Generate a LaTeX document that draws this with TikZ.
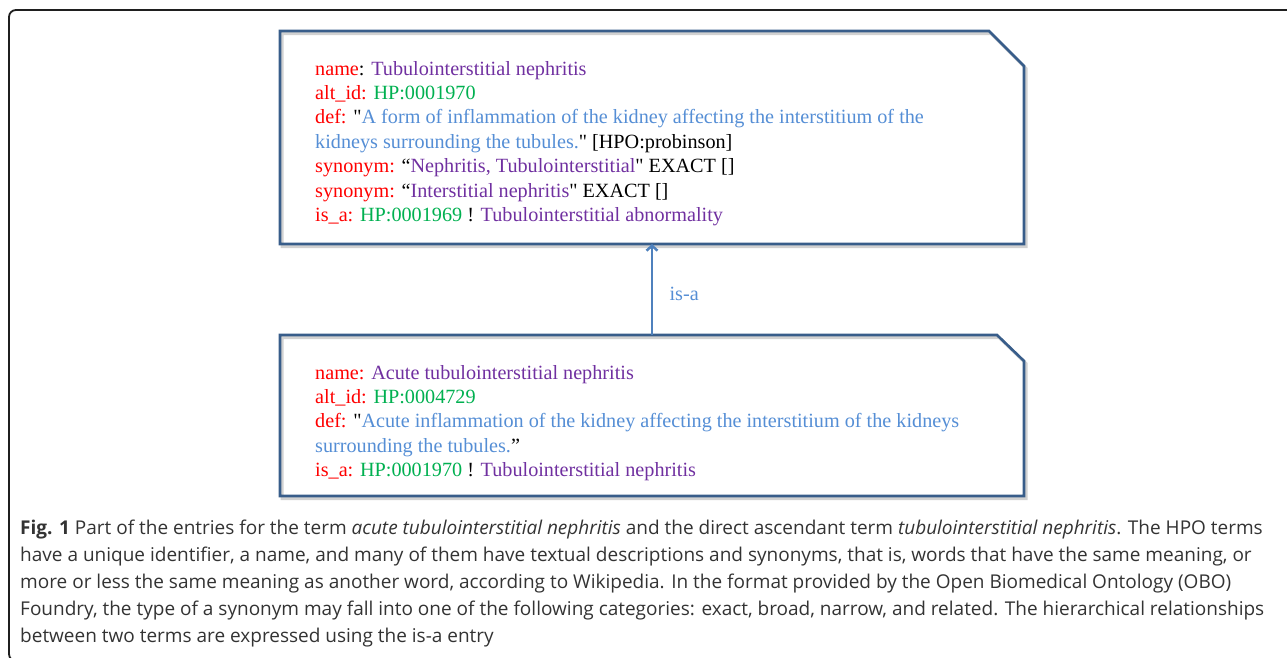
\documentclass[tikz,border=0pt]{standalone}
\usepackage{fontspec}
\setmainfont{Liberation Serif}[Ligatures=TeXOff]
\newfontfamily\capfont{Open Sans}
\usetikzlibrary{arrows.meta}

\definecolor{kred}{RGB}{255,0,0}
\definecolor{kpurple}{RGB}{112,48,160}
\definecolor{kgreen}{RGB}{0,176,80}
\definecolor{kblue}{RGB}{85,142,213}
\definecolor{boxline}{RGB}{56,93,138}
\definecolor{arrowblue}{RGB}{79,129,189}
\definecolor{capgray}{RGB}{51,51,51}

\tikzset{
    termrect/.style={draw=none, inner sep=0pt, outer sep=0pt, anchor=north west},
    termline/.style={draw=boxline, line width=2.6pt, line join=miter},
    termshadow/.style={draw=black!18, line width=3pt, transform canvas={xshift=2pt, yshift=-2.5pt}},
    termtext/.style={anchor=base west, inner sep=0pt, align=left,
        font=\fontsize{20.2}{24.4}\selectfont},
}

\begin{document}
\begin{tikzpicture}[x=1pt, y=-1pt]
    \useasboundingbox (0,0) rectangle (1287,657);

    % outer frame of the figure
    \draw[line width=1.8pt, black!88, rounded corners=7pt] (1295,10) -- (9,10) -- (9,661) -- (1295,661);

    \node[termrect, minimum width=744pt, minimum height=213pt] (toprect) at (280,31) {};
    \node[termrect, minimum width=744pt, minimum height=161pt] (botrect) at (280,335) {};

    \draw[termshadow] (toprect.south west) -- (toprect.north west) -- ([xshift=-35pt]toprect.north east)
        -- ([yshift=-35pt]toprect.north east) -- (toprect.south east) -- cycle;
    \draw[termline] (toprect.south west) -- (toprect.north west) -- ([xshift=-35pt]toprect.north east)
        -- ([yshift=-35pt]toprect.north east) -- (toprect.south east) -- cycle;

    \draw[termshadow] (botrect.south west) -- (botrect.north west) -- ([xshift=-27pt]botrect.north east)
        -- ([yshift=-26pt]botrect.north east) -- (botrect.south east) -- cycle;
    \draw[termline] (botrect.south west) -- (botrect.north west) -- ([xshift=-27pt]botrect.north east)
        -- ([yshift=-26pt]botrect.north east) -- (botrect.south east) -- cycle;

    % base anchor sits on the last line
    \node[termtext] (toptext) at (315,221.4) {%
        \textcolor{kred}{name}: \textcolor{kpurple}{Tubulointerstitial nephritis}\\
        \textcolor{kred}{alt\_id:} \textcolor{kgreen}{HP:0001970}\\
        \textcolor{kred}{def:} "\textcolor{kblue}{A form of inflammation of the kidney affecting the interstitium of the}\\
        \textcolor{kblue}{kidneys surrounding the tubules.}" [HPO:probinson]\\
        \textcolor{kred}{synonym:} “\textcolor{kpurple}{Nephritis, Tubulointerstitial}" EXACT []\\
        \textcolor{kred}{synonym:} “\textcolor{kpurple}{Interstitial nephritis}" EXACT []\\
        \textcolor{kred}{is\_a:} \textcolor{kgreen}{HP:0001969} ! \textcolor{kpurple}{Tubulointerstitial abnormality}};

    \node[termtext] (bottext) at (315,476.6) {%
        \textcolor{kred}{name:} \textcolor{kpurple}{Acute tubulointerstitial nephritis}\\
        \textcolor{kred}{alt\_id:} \textcolor{kgreen}{HP:0004729}\\
        \textcolor{kred}{def:} "\textcolor{kblue}{Acute inflammation of the kidney affecting the interstitium of the kidneys}\\
        \textcolor{kblue}{surrounding the tubules.}”\\
        \textcolor{kred}{is\_a:} \textcolor{kgreen}{HP:0001970} ! \textcolor{kpurple}{Tubulointerstitial nephritis}};

    \draw[arrowblue, line width=2.5pt, -{Straight Barb[length=5pt, width=11pt]}] (botrect.north) -- (toprect.south)
        node[pos=0.45, right=13pt, text=kblue, font=\fontsize{20.2}{22}\selectfont] (isalabel) {is-a};

    \node[anchor=base west, inner sep=0pt, align=left, text=capgray,
        font=\capfont\fontsize{19}{27}\selectfont] (caption) at (20,642) {%
        \textbf{Fig. 1} Part of the entries for the term \textit{acute tubulointerstitial nephritis} and the direct ascendant term \textit{tubulointerstitial nephritis}. The HPO terms\\
        have a unique identifier, a name, and many of them have textual descriptions and synonyms, that is, words that have the same meaning, or\\
        more or less the same meaning as another word, according to Wikipedia. In the format provided by the Open Biomedical Ontology (OBO)\\
        Foundry, the type of a synonym may fall into one of the following categories: exact, broad, narrow, and related. The hierarchical relationships\\
        between two terms are expressed using the is-a entry};
\end{tikzpicture}
\end{document}
